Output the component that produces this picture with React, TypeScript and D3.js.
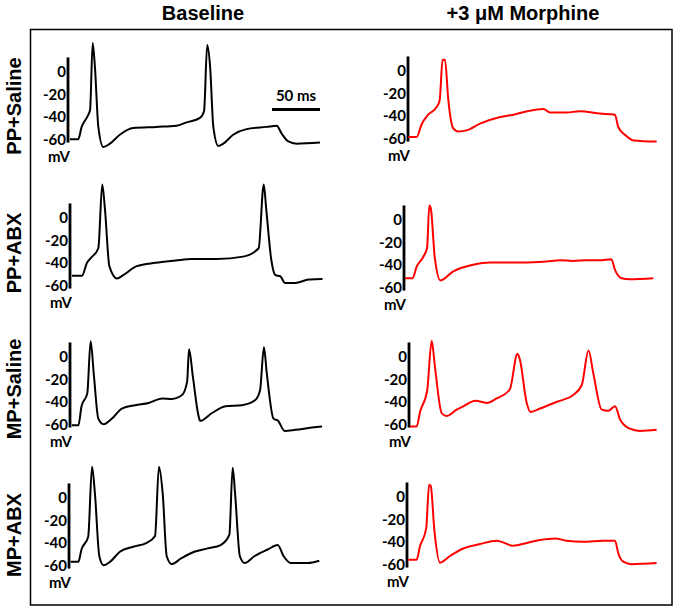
import React from "react";
import * as d3 from "d3";

// ---- data: [time ms, membrane potential mV] ----
const ppSalineBaseline: [number, number][] = [
  [2, -60], [10.7, -60], [14.2, -49], [20, -40], [23, -34], [25.7, 26], [28, 5], [31.6, -49],
  [36.8, -67], [43.7, -64], [54, -56], [68, -50], [92, -49], [113, -48], [123.6, -45],
  [137.5, -41], [141.7, -35], [145, 24], [148, 5], [151.4, -49], [156.6, -66], [161.8, -64],
  [172, -56], [186, -51], [207, -49], [217.4, -48], [222.6, -55], [229.5, -62], [238, -64],
  [262.5, -63],
];
const ppSalineMorphine: [number, number][] = [
  [0.3, -59], [9, -59], [14, -48], [21, -39], [30, -32], [33, -26], [36, 10], [38.5, 10],
  [42, -26], [47, -51], [52.4, -54], [61, -53], [75, -47], [96, -41], [110, -39], [124, -36],
  [141, -34], [148, -37], [165, -37], [179, -36], [200, -38], [215.6, -39], [219, -50],
  [226, -57], [235, -62], [259, -63],
];
const ppAbxBaseline: [number, number][] = [
  [2, -51.5], [12.5, -51.5], [17.7, -40], [22.6, -35], [29.5, -27], [33.6, 30], [36.5, 7],
  [41, -43], [49, -54], [55.5, -51], [69.5, -43], [89, -40], [110, -38], [127, -36.6],
  [153, -36.6], [180.5, -34.5], [196.5, -27], [201.8, 30], [204.5, 7], [209.7, -37.5],
  [214, -51], [219, -52], [224, -58], [234.7, -58], [248.6, -55], [263, -54.5],
];
const ppAbxMorphine: [number, number][] = [
  [1, -52], [9, -52], [13, -42], [20, -33], [24, -25], [26.4, 13], [28, 10], [32, -33],
  [38, -54], [51, -46], [72, -40], [89.6, -38], [124, -38], [148.6, -37], [162.5, -36],
  [176, -36.5], [190, -36], [204, -36], [216, -35], [219.8, -44.6], [226.7, -52],
  [235.4, -53], [259.7, -52],
];
const mpSalineBaseline: [number, number][] = [
  [2, -61], [8.7, -61], [12, -44], [18, -32.5], [21.5, 14], [25, -17.6], [29.5, -55],
  [35, -60], [43.7, -55], [54, -46], [68, -43], [82, -41], [96, -37], [106, -37.5],
  [116.7, -34], [122, -22], [124, 7], [128, -17.6], [134, -53], [135.4, -57], [148, -50],
  [162, -44], [179, -43], [193, -38.4], [198, -29.5], [202, 8.6], [205, -14.6], [212, -55],
  [216.7, -57], [223.6, -66], [234.7, -65], [252, -63], [262.5, -62],
];
const mpSalineMorphine: [number, number][] = [
  [1, -62], [8, -62], [11.5, -49], [19, -29.5], [23.6, 14.6], [27, -8.6], [34, -50],
  [39, -52.7], [49.6, -47], [56.6, -44], [69, -39], [81, -41], [91.3, -37], [105, -29],
  [113, 3], [115.6, -2.7], [122.6, -41], [126.7, -49], [136.5, -46], [154, -40], [171, -34],
  [180, -25], [187, 5.7], [192, -14.6], [200.7, -47], [207.6, -48], [214.6, -44], [220, -56],
  [230, -64], [240.6, -66], [258, -65],
];
const mpAbxBaseline: [number, number][] = [
  [1.7, -57], [9.7, -57], [13, -46], [20, -34.5], [24, 28], [27, 4], [31.6, -52], [36, -60],
  [42.7, -57], [53, -48], [67, -43.5], [81, -40], [89.6, -34], [93.7, 28], [97.6, 4],
  [101.8, -52], [107, -59], [116.7, -54], [130.5, -48], [144.5, -45], [158, -42], [167, -33],
  [170.5, 27], [173, 4], [178, -52], [183, -58], [193, -52], [207, -46], [217.4, -42],
  [223.6, -52], [231, -58], [248.6, -58], [260.7, -56],
];
const mpAbxMorphine: [number, number][] = [
  [1.4, -56], [10, -56], [13.5, -44], [20, -28], [23, 11], [24.7, 10], [28.5, -29.5],
  [34.4, -58.6], [44.8, -52.7], [58.6, -46], [76, -42], [93.4, -39], [110.7, -43.5],
  [124.7, -41], [138.5, -38.4], [154, -37], [166, -39], [183.6, -40], [204.5, -39],
  [216.7, -39], [220, -50], [225.3, -57.8], [234, -60], [260, -59],
];

const columnTitles = ["Baseline", "+3 \u03bcM Morphine"];
const rowLabels = ["PP+Saline", "PP+ABX", "MP+Saline", "MP+ABX"];
const tickValues = [0, -20, -40, -60];
const traces = [
  [ppSalineBaseline, ppSalineMorphine],
  [ppAbxBaseline, ppAbxMorphine],
  [mpSalineBaseline, mpSalineMorphine],
  [mpAbxBaseline, mpAbxMorphine],
];
const scaleBarMs = 50;

// ---- layout ----
const W = 675;
const H = 611;
const colColors = ["#000000", "#ff0000"];
const barXs = [
  [68, 408],
  [70, 404],
  [70, 409],
  [69, 407],
];
const zeroYs = [
  [72, 71],
  [218, 220],
  [357, 357],
  [498, 497],
];
const pxPerMv = 1.12;
const pxPerMs = 48 / 50;
const rowLabelY = [106, 253, 389, 535];
const numFont = "Lato, 'Open Sans', sans-serif";
const titleFont = "'Liberation Sans', Arial, sans-serif";

export default function App() {
  const panels: React.ReactNode[] = [];
  traces.forEach((row, r) => {
    row.forEach((data, c) => {
      const bx = barXs[r][c];
      const y0 = zeroYs[r][c];
      const x = d3.scaleLinear().domain([0, 100]).range([bx, bx + 100 * pxPerMs]);
      const y = d3.scaleLinear().domain([0, -60]).range([y0, y0 + 60 * pxPerMv]);
      const line = d3
        .line<[number, number]>()
        .x((d) => x(d[0]))
        .y((d) => y(d[1]))
        .curve(d3.curveMonotoneX);
      panels.push(
        <g key={`p${r}${c}`}>
          <line x1={bx} x2={bx} y1={y(13)} y2={y(-63)} stroke="#000" strokeWidth={2.8} />
          {tickValues.map((t) => (
            <text
              key={t}
              x={bx - 2}
              y={y(t)}
              dy="0.36em"
              textAnchor="end"
              fontFamily={numFont}
              fontWeight={700}
              fontSize={15}
            >
              {t}
            </text>
          ))}
          <text
            x={bx + 2}
            y={y(-60) + 23}
            textAnchor="end"
            fontFamily={numFont}
            fontWeight={700}
            fontSize={15}
          >
            mV
          </text>
          <path d={line(data) || ""} fill="none" stroke={colColors[c]} strokeWidth={2} strokeLinejoin="round" />
        </g>
      );
    });
  });

  // scale bar (row 1, baseline column)
  const sbx = d3.scaleLinear().domain([0, 100]).range([272, 272 + 100 * pxPerMs]);

  return (
    <svg width={W} height={H} style={{ position: "absolute", left: 0, top: 0, background: "#fff" }}>
      <rect x={0} y={0} width={W} height={H} fill="#fff" />
      <rect x={30.5} y={29.5} width={641.5} height={575.5} fill="none" stroke="#000" strokeWidth={1.5} />
      {columnTitles.map((t, i) => (
        <text
          key={t}
          x={i === 0 ? 203 : 523}
          y={20}
          textAnchor="middle"
          fontFamily={titleFont}
          fontWeight={700}
          fontSize={20}
        >
          {t}
        </text>
      ))}
      {rowLabels.map((t, i) => (
        <text
          key={t}
          transform={`translate(21,${rowLabelY[i]}) rotate(-90)`}
          textAnchor="middle"
          fontFamily={titleFont}
          fontWeight={700}
          fontSize={20}
        >
          {t}
        </text>
      ))}
      {panels}
      <line x1={sbx(0)} x2={sbx(scaleBarMs)} y1={109.5} y2={109.5} stroke="#000" strokeWidth={2.8} />
      <text
        x={(sbx(0) + sbx(scaleBarMs)) / 2}
        y={101}
        textAnchor="middle"
        fontFamily={numFont}
        fontWeight={700}
        fontSize={15}
      >
        {`${scaleBarMs} ms`}
      </text>
    </svg>
  );
}
